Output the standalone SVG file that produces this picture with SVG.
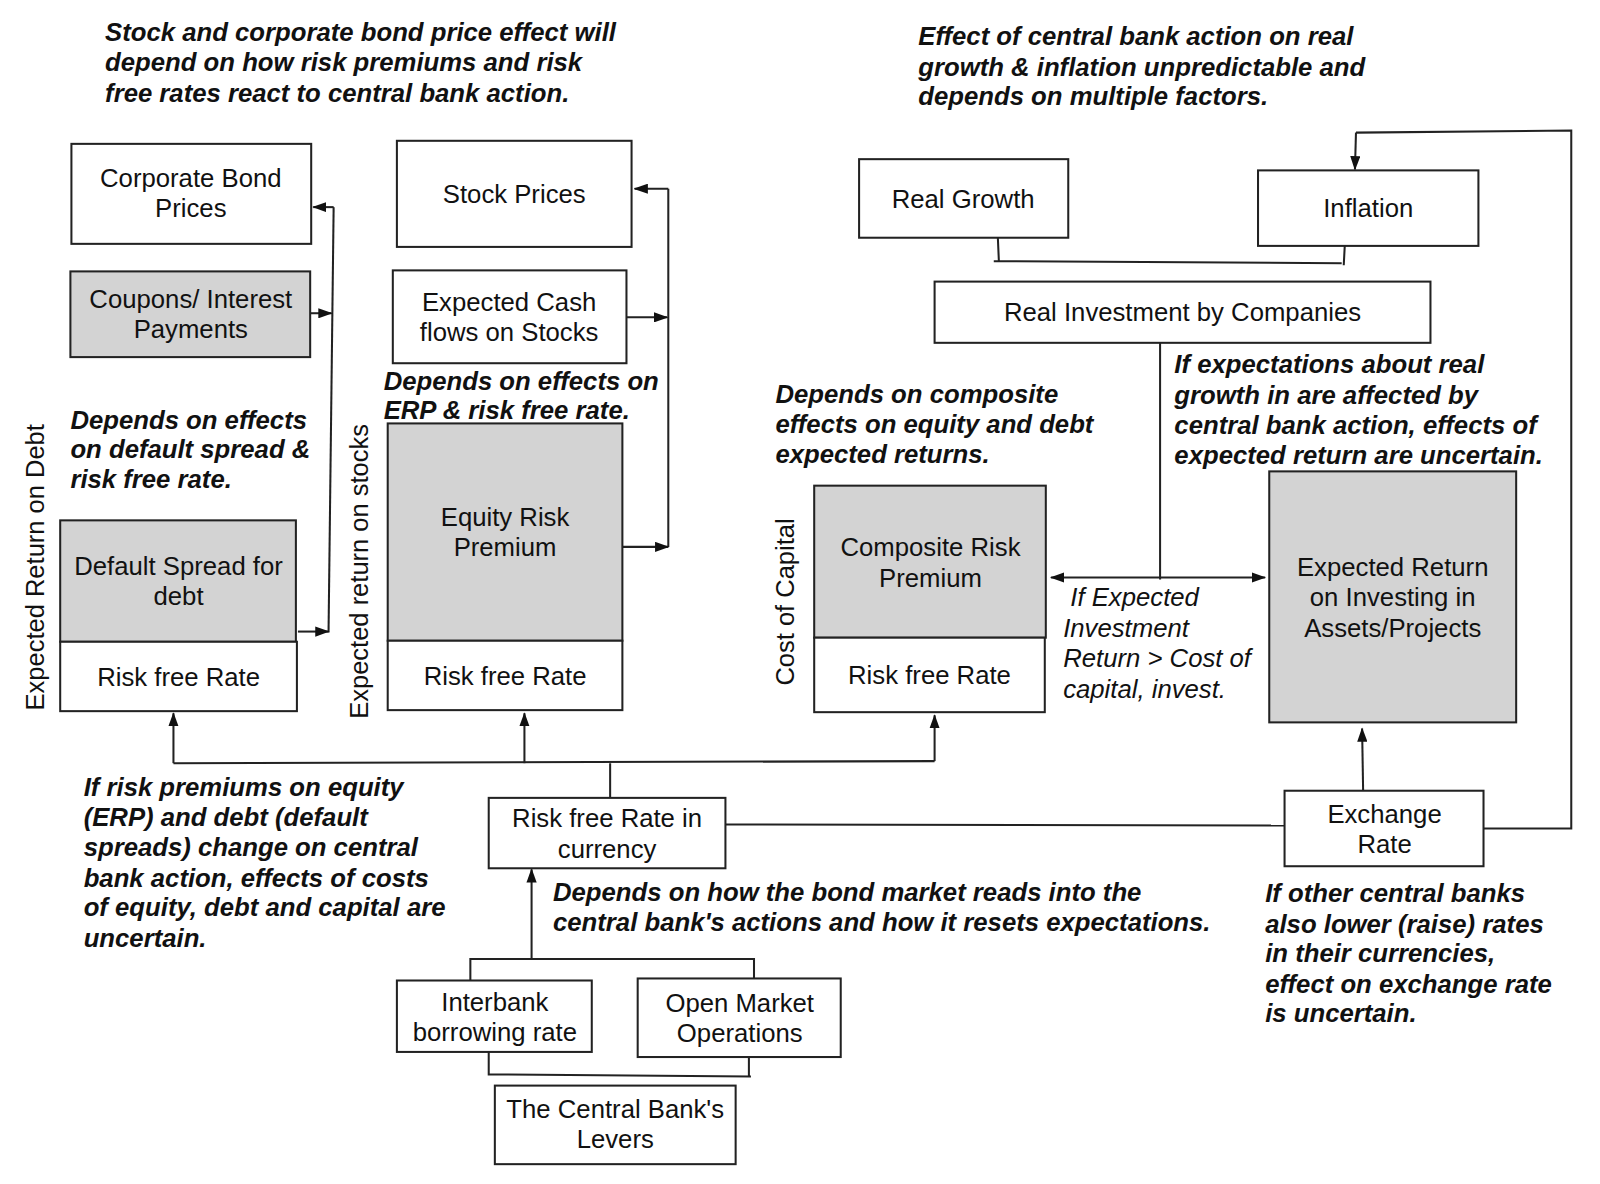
<svg xmlns="http://www.w3.org/2000/svg" width="1600" height="1184" viewBox="0 0 1600 1184">
<style>
.box{fill:#fff;stroke:#222;stroke-width:2}
.gbox{fill:#d3d3d3;stroke:#222;stroke-width:2}
.t{font-family:"Liberation Sans",Arial,sans-serif;font-size:25.2px;fill:#111;text-anchor:middle}
.vt{font-family:"Liberation Sans",Arial,sans-serif;font-size:25px;fill:#111;text-anchor:middle}
.a{font-family:"Liberation Sans",Arial,sans-serif;font-size:25.2px;font-weight:bold;font-style:italic;fill:#111}
.i{font-family:"Liberation Sans",Arial,sans-serif;font-size:25.2px;font-style:italic;fill:#111}
.c{fill:none;stroke:#222;stroke-width:2}
.ca{fill:none;stroke:#222;stroke-width:2;marker-end:url(#ah)}
</style>
<defs>
<marker id="ah" viewBox="0 0 14 10" refX="13" refY="5" markerWidth="14" markerHeight="10" markerUnits="userSpaceOnUse" orient="auto">
<path d="M0,0 L14,5 L0,10 z" fill="#111"/>
</marker>
</defs>
<rect width="1600" height="1184" fill="#fff"/>
<g transform="scale(1.0203)">
<g id="connectors">
<path class="c" d="M327,203 L322,620"/>
<path class="ca" d="M327,203 L307,203"/>
<path class="ca" d="M304,307 L325,307"/>
<path class="ca" d="M292,619 L322,619"/>
<path class="c" d="M655,185 L655,536"/>
<path class="ca" d="M655,185 L622,185"/>
<path class="ca" d="M614,311 L654,311"/>
<path class="ca" d="M610,536 L655,536"/>
<path class="c" d="M978,233 L979,256 M974,256 L1315,258 M1318,241 L1317,260"/>
<path class="c" d="M1137,336 L1137,568"/>
<path class="ca" d="M1137,566 L1240,566"/>
<path class="ca" d="M1137,566 L1030,566"/>
<path class="c" d="M1454,812 L1540,812 L1540,128 L1329,130"/>
<path class="ca" d="M1329,130 L1328,166"/>
<path class="ca" d="M1336,775 L1335,714"/>
<path class="c" d="M711,808 L1259,809"/>
<path class="c" d="M598,782 L598,748 M170,748 L916,746"/>
<path class="ca" d="M170,748 L170,699"/>
<path class="ca" d="M514,748 L514,699"/>
<path class="ca" d="M916,746 L916,701"/>
<path class="ca" d="M521,940 L521,852"/>
<path class="c" d="M461,961 L461,940 L739,940 L739,959"/>
<path class="c" d="M479,1031 L479,1053 L736,1055 M734,1036 L734,1055"/>
</g>
<g id="corporate-bond-prices"><rect class="box" x="70" y="141" width="235" height="98"/><text class="t" x="187" y="183">Corporate Bond</text><text class="t" x="187" y="213">Prices</text></g>
<g id="coupons"><rect class="gbox" x="69" y="266" width="235" height="84"/><text class="t" x="187" y="302">Coupons/ Interest</text><text class="t" x="187" y="331">Payments</text></g>
<g id="stock-prices"><rect class="box" x="389" y="138" width="230" height="104"/><text class="t" x="504" y="199">Stock Prices</text></g>
<g id="expected-cash-flows"><rect class="box" x="385" y="265" width="229" height="91"/><text class="t" x="499" y="305">Expected Cash</text><text class="t" x="499" y="334">flows on Stocks</text></g>
<g id="equity-risk-premium"><rect class="gbox" x="380" y="415" width="230" height="213"/><text class="t" x="495" y="516">Equity Risk</text><text class="t" x="495" y="545">Premium</text></g>
<g id="risk-free-equity"><rect class="box" x="380" y="628" width="230" height="68"/><text class="t" x="495" y="671">Risk free Rate</text></g>
<g id="default-spread"><rect class="gbox" x="59" y="510" width="231" height="119"/><text class="t" x="175" y="564">Default Spread for</text><text class="t" x="175" y="593">debt</text></g>
<g id="risk-free-debt"><rect class="box" x="59" y="629" width="232" height="68"/><text class="t" x="175" y="672">Risk free Rate</text></g>
<g id="real-growth"><rect class="box" x="842" y="156" width="205" height="77"/><text class="t" x="944" y="204">Real Growth</text></g>
<g id="inflation"><rect class="box" x="1233" y="167" width="216" height="74"/><text class="t" x="1341" y="213">Inflation</text></g>
<g id="real-investment"><rect class="box" x="916" y="276" width="486" height="60"/><text class="t" x="1159" y="315">Real Investment by Companies</text></g>
<g id="composite-risk-premium"><rect class="gbox" x="798" y="476" width="227" height="149"/><text class="t" x="912" y="545">Composite Risk</text><text class="t" x="912" y="575">Premium</text></g>
<g id="risk-free-capital"><rect class="box" x="798" y="625" width="226" height="73"/><text class="t" x="911" y="670">Risk free Rate</text></g>
<g id="expected-return-projects"><rect class="gbox" x="1244" y="462" width="242" height="246"/><text class="t" x="1365" y="565">Expected Return</text><text class="t" x="1365" y="594">on Investing in</text><text class="t" x="1365" y="624">Assets/Projects</text></g>
<g id="risk-free-currency"><rect class="box" x="479" y="782" width="232" height="69"/><text class="t" x="595" y="811">Risk free Rate in</text><text class="t" x="595" y="841">currency</text></g>
<g id="exchange-rate"><rect class="box" x="1259" y="775" width="195" height="74"/><text class="t" x="1357" y="807">Exchange</text><text class="t" x="1357" y="836">Rate</text></g>
<g id="interbank"><rect class="box" x="389" y="961" width="191" height="70"/><text class="t" x="485" y="991">Interbank</text><text class="t" x="485" y="1020">borrowing rate</text></g>
<g id="open-market"><rect class="box" x="625" y="959" width="199" height="77"/><text class="t" x="725" y="992">Open Market</text><text class="t" x="725" y="1021">Operations</text></g>
<g id="central-bank-levers"><rect class="box" x="485" y="1064" width="236" height="77"/><text class="t" x="603" y="1096">The Central Bank's</text><text class="t" x="603" y="1125">Levers</text></g>
<g id="labels">
<text class="vt" transform="translate(43,556) rotate(-90)">Expected Return on Debt</text>
<text class="vt" transform="translate(361,560) rotate(-90)">Expected return on stocks</text>
<text class="vt" transform="translate(778,590) rotate(-90)">Cost of Capital</text>
<text class="a" x="103" y="40">Stock and corporate bond price effect will</text>
<text class="a" x="103" y="70">depend on how risk premiums and risk</text>
<text class="a" x="103" y="100">free rates react to central bank action.</text>
<text class="a" x="900" y="44">Effect of central bank action on real</text>
<text class="a" x="900" y="74">growth &amp; inflation unpredictable and</text>
<text class="a" x="900" y="103">depends on multiple factors.</text>
<text class="a" x="69" y="420">Depends on effects</text>
<text class="a" x="69" y="449">on default spread &amp;</text>
<text class="a" x="69" y="478">risk free rate.</text>
<text class="a" x="376" y="382">Depends on effects on</text>
<text class="a" x="376" y="411">ERP &amp; risk free rate.</text>
<text class="a" x="760" y="395">Depends on composite</text>
<text class="a" x="760" y="424">effects on equity and debt</text>
<text class="a" x="760" y="454">expected returns.</text>
<text class="a" x="1151" y="366">If expectations about real</text>
<text class="a" x="1151" y="396">growth in are affected by</text>
<text class="a" x="1151" y="425">central bank action, effects of</text>
<text class="a" x="1151" y="455">expected return are uncertain.</text>
<text class="a" x="82" y="780">If risk premiums on equity</text>
<text class="a" x="82" y="810">(ERP) and debt (default</text>
<text class="a" x="82" y="839">spreads) change on central</text>
<text class="a" x="82" y="869">bank action, effects of costs</text>
<text class="a" x="82" y="898">of equity, debt and capital are</text>
<text class="a" x="82" y="928">uncertain.</text>
<text class="a" x="542" y="883">Depends on how the bond market reads into the</text>
<text class="a" x="542" y="912">central bank's actions and how it resets expectations.</text>
<text class="a" x="1240" y="884">If other central banks</text>
<text class="a" x="1240" y="914">also lower (raise) rates</text>
<text class="a" x="1240" y="943">in their currencies,</text>
<text class="a" x="1240" y="973">effect on exchange rate</text>
<text class="a" x="1240" y="1002">is uncertain.</text>
<text class="i" x="1049" y="594">If Expected</text>
<text class="i" x="1042" y="624">Investment</text>
<text class="i" x="1042" y="654">Return &gt; Cost of</text>
<text class="i" x="1042" y="684">capital, invest.</text>
</g>
</g>
</svg>
